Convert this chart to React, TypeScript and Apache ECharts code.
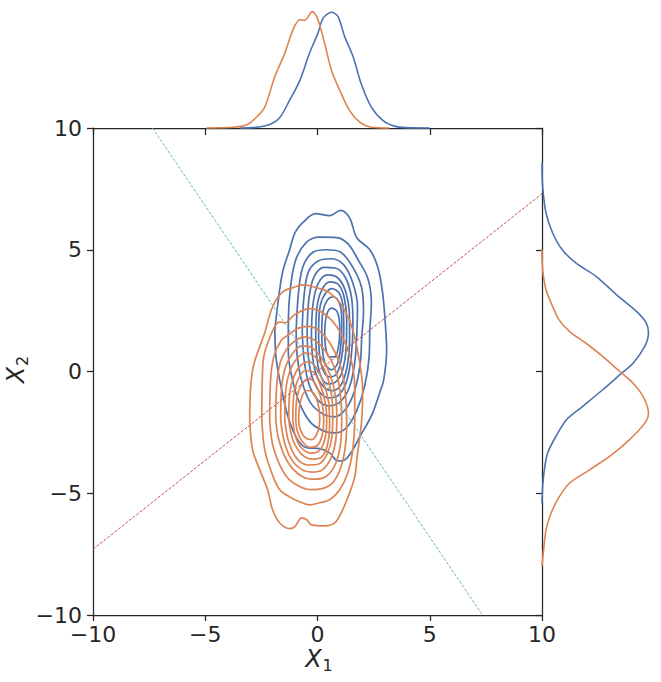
import React, { useEffect, useRef } from "react";
import * as echarts from "echarts";

const AXIS_MIN = -10;
const AXIS_MAX = 10;
const TICK_STEP = 5;

// Blue KDE contour levels (outer -> inner), [x1, x2]
const B1 = [[-1.9, 1.7], [-1.75, 2.9], [-1.55, 4.1], [-1.24, 5.0], [-1.0, 5.7], [-0.66, 6.11], [-0.08, 6.48], [0.54, 6.4], [1.03, 6.62], [1.43, 6.31], [1.75, 5.49], [2.33, 5.0], [2.68, 4.3], [2.9, 3.23], [3.04, 1.71], [3.08, 0.89], [2.95, -0.34], [2.77, -0.87], [2.46, -1.7], [2.19, -2.19], [1.88, -2.68], [1.57, -3.22], [1.21, -3.63], [0.9, -3.67], [0.54, -3.34], [0.1, -3.17], [-0.48, -3.13], [-0.88, -2.81], [-1.3, -1.9], [-1.65, -0.5], [-1.85, 0.6]];
const B2 = [[-1.3, 1.7], [-1.25, 3.0], [-1.0, 4.5], [-0.5, 5.3], [0.1, 5.52], [0.85, 5.5], [1.35, 5.25], [1.8, 4.6], [2.25, 3.8], [2.4, 2.8], [2.33, 1.7], [2.3, 0.6], [2.1, -0.6], [1.75, -1.6], [1.3, -2.3], [0.8, -2.52], [0.3, -2.45], [-0.3, -2.1], [-0.8, -1.3], [-1.15, -0.2], [-1.3, 0.8]];
const B3 = [[-0.95, 1.7], [-0.85, 3.2], [-0.65, 4.3], [-0.2, 4.9], [0.4, 5.0], [1.0, 4.92], [1.53, 4.35], [1.95, 3.5], [2.05, 2.5], [1.97, 1.4], [1.9, 0.3], [1.65, -0.8], [1.25, -1.55], [0.75, -1.86], [0.25, -1.75], [-0.3, -1.3], [-0.7, -0.4], [-0.9, 0.6]];
const B4 = [[-0.68, 1.7], [-0.6, 3.1], [-0.4, 4.1], [0.05, 4.55], [0.6, 4.63], [1.15, 4.4], [1.55, 3.7], [1.78, 2.7], [1.75, 1.5], [1.65, 0.3], [1.4, -0.7], [1.0, -1.25], [0.55, -1.41], [0.1, -1.25], [-0.35, -0.6], [-0.6, 0.5]];
const B5 = [[-0.46, 1.7], [-0.38, 3.0], [-0.15, 3.9], [0.3, 4.28], [0.8, 4.25], [1.25, 3.85], [1.52, 3.0], [1.58, 1.9], [1.5, 0.6], [1.28, -0.45], [0.9, -1.0], [0.5, -1.08], [0.1, -0.85], [-0.25, -0.2], [-0.42, 0.7]];
const B6 = [[-0.27, 1.7], [-0.18, 2.9], [0.05, 3.65], [0.45, 3.97], [0.9, 3.85], [1.25, 3.3], [1.42, 2.4], [1.43, 1.3], [1.32, 0.2], [1.05, -0.55], [0.65, -0.79], [0.25, -0.6], [-0.08, -0.05], [-0.24, 0.8]];
const B7 = [[-0.08, 1.7], [0.0, 2.8], [0.22, 3.4], [0.55, 3.68], [0.95, 3.55], [1.2, 3.0], [1.3, 2.1], [1.28, 1.0], [1.12, 0.05], [0.85, -0.4], [0.5, -0.51], [0.18, -0.25], [-0.02, 0.5]];
const B8 = [[0.05, 1.7], [0.12, 2.7], [0.35, 3.2], [0.65, 3.4], [0.98, 3.2], [1.15, 2.55], [1.17, 1.6], [1.08, 0.6], [0.85, -0.1], [0.55, -0.22], [0.25, 0.05], [0.08, 0.8]];
const B9 = [[0.19, 1.7], [0.25, 2.5], [0.45, 2.95], [0.72, 3.07], [0.98, 2.8], [1.08, 2.1], [1.05, 1.2], [0.9, 0.35], [0.62, 0.07], [0.35, 0.3], [0.21, 1.0]];
const B10 = [[0.32, 1.6], [0.4, 2.3], [0.62, 2.6], [0.88, 2.45], [0.99, 1.8], [0.95, 1.1], [0.75, 0.6], [0.52, 0.6], [0.36, 1.0]];

// Orange KDE contour levels (outer -> inner), [x1, x2]
const O1 = [[-3.02, -1.98], [-2.89, 0.07], [-2.35, 1.59], [-2.0, 2.66], [-1.55, 3.27], [-1.1, 3.44], [-0.66, 3.56], [-0.04, 3.44], [0.54, 3.23], [1.12, 2.66], [1.57, 1.71], [1.88, 0.36], [2.01, -0.75], [1.97, -1.98], [1.75, -3.63], [1.66, -4.33], [1.43, -4.98], [1.12, -5.68], [0.77, -6.22], [0.32, -6.34], [-0.26, -6.3], [-0.48, -6.09], [-0.7, -6.01], [-1.02, -6.38], [-1.24, -6.45], [-1.68, -6.22], [-2.0, -5.68], [-2.22, -4.86], [-2.57, -4.04], [-2.89, -3.22]];
const O2 = [[-2.48, -1.98], [-2.43, 0.36], [-2.04, 1.59], [-1.68, 2.04], [-1.46, 2.0], [-1.02, 2.33], [-0.35, 2.58], [0.23, 2.41], [0.86, 1.84], [1.3, 1.02], [1.57, 0.19], [1.66, -0.75], [1.66, -1.98], [1.57, -3.22], [1.35, -4.16], [0.99, -4.86], [0.54, -5.27], [0.1, -5.39], [-0.35, -5.48], [-0.79, -5.35], [-1.24, -5.15], [-1.68, -4.86], [-2.04, -4.16], [-2.35, -3.22]];
const O3 = [[-2.13, -1.98], [-2.1, -0.5], [-1.95, 0.6], [-1.6, 1.3], [-1.3, 1.5], [-0.85, 1.78], [-0.4, 1.85], [0.1, 1.65], [0.6, 1.1], [1.0, 0.3], [1.22, -0.7], [1.3, -1.98], [1.25, -3.0], [1.05, -3.9], [0.7, -4.55], [0.25, -4.8], [-0.3, -4.85], [-0.8, -4.72], [-1.3, -4.4], [-1.7, -3.8], [-2.0, -3.0]];
const O4 = [[-1.86, -1.98], [-1.82, -0.6], [-1.65, 0.4], [-1.35, 0.95], [-1.0, 1.25], [-0.6, 1.42], [-0.15, 1.3], [0.35, 0.85], [0.78, 0.1], [1.0, -0.8], [1.08, -1.98], [1.02, -3.0], [0.8, -3.8], [0.4, -4.3], [-0.1, -4.42], [-0.6, -4.35], [-1.1, -4.0], [-1.5, -3.4], [-1.75, -2.7]];
const O5 = [[-1.64, -1.98], [-1.6, -0.7], [-1.42, 0.2], [-1.1, 0.75], [-0.7, 1.05], [-0.3, 1.0], [0.15, 0.6], [0.55, -0.1], [0.8, -1.0], [0.86, -1.98], [0.8, -2.9], [0.58, -3.6], [0.2, -4.05], [-0.25, -4.13], [-0.75, -4.0], [-1.2, -3.55], [-1.5, -2.8]];
const O6 = [[-1.46, -1.98], [-1.42, -0.8], [-1.22, 0.05], [-0.9, 0.55], [-0.5, 0.77], [-0.1, 0.6], [0.3, 0.1], [0.58, -0.7], [0.68, -1.7], [0.64, -2.7], [0.42, -3.4], [0.05, -3.8], [-0.4, -3.84], [-0.9, -3.6], [-1.28, -2.9]];
const O7 = [[-1.28, -1.98], [-1.24, -0.9], [-1.05, -0.2], [-0.75, 0.25], [-0.4, 0.4], [-0.05, 0.15], [0.28, -0.5], [0.5, -1.3], [0.54, -2.2], [0.45, -3.0], [0.2, -3.5], [-0.2, -3.6], [-0.7, -3.4], [-1.1, -2.8]];
const O8 = [[-1.1, -1.98], [-1.06, -1.0], [-0.88, -0.35], [-0.55, 0.03], [-0.22, 0.0], [0.1, -0.5], [0.35, -1.3], [0.41, -2.1], [0.32, -2.8], [0.08, -3.25], [-0.3, -3.35], [-0.75, -3.1], [-1.0, -2.6]];
const O9 = [[-0.97, -1.98], [-0.92, -1.1], [-0.72, -0.55], [-0.4, -0.3], [-0.1, -0.5], [0.18, -1.2], [0.28, -2.0], [0.2, -2.65], [-0.02, -3.05], [-0.35, -3.11], [-0.7, -2.85], [-0.9, -2.45]];
const O10 = [[-0.84, -1.9], [-0.75, -1.2], [-0.5, -0.78], [-0.22, -0.85], [0.02, -1.3], [0.1, -1.9], [0.02, -2.45], [-0.25, -2.8], [-0.55, -2.72], [-0.78, -2.35]];

const blueContours = [B1, B2, B3, B4, B5, B6, B7, B8, B9, B10];
const orangeContours = [O1, O2, O3, O4, O5, O6, O7, O8, O9, O10];

// Top marginal densities (relative), [x1, density]
const topBlue = [[-3.47, 0], [-2.72, 0.006], [-2.13, 0.03], [-1.68, 0.09], [-1.24, 0.24], [-0.79, 0.41], [-0.35, 0.65], [0.02, 0.82], [0.25, 0.95], [0.62, 1.0], [0.91, 0.965], [1.21, 0.79], [1.58, 0.62], [1.95, 0.38], [2.4, 0.18], [2.92, 0.064], [3.51, 0.012], [4.2, 0.001], [5.0, 0]];
const topOrange = [[-4.95, 0], [-3.76, 0.006], [-3.17, 0.026], [-2.72, 0.093], [-2.35, 0.18], [-1.91, 0.44], [-1.46, 0.645], [-1.09, 0.85], [-0.79, 0.936], [-0.57, 0.93], [-0.23, 1.006], [0.02, 0.936], [0.32, 0.73], [0.62, 0.5], [0.99, 0.326], [1.43, 0.15], [1.88, 0.05], [2.4, 0.006], [3.2, 0]];

// Right marginal densities (relative), [density, x2]
const rightBlue = [[0, 8.56], [0.006, 7.6], [0.038, 6.51], [0.1, 5.69], [0.19, 5.0], [0.32, 4.45], [0.51, 3.9], [0.7, 3.15], [0.89, 2.46], [0.98, 1.99], [1.0, 1.58], [0.965, 1.03], [0.855, 0.34], [0.73, -0.14], [0.57, -0.75], [0.38, -1.44], [0.23, -1.98], [0.13, -2.67], [0.053, -3.35], [0.022, -4.04], [0.006, -4.72], [0, -5.4]];
const rightOrange = [[0, 5.0], [0.006, 4.18], [0.038, 3.36], [0.1, 2.67], [0.16, 2.12], [0.26, 1.64], [0.41, 1.17], [0.57, 0.62], [0.73, 0.0], [0.855, -0.48], [0.95, -1.03], [1.0, -1.71], [0.965, -2.12], [0.82, -2.81], [0.635, -3.49], [0.446, -4.04], [0.26, -4.58], [0.163, -5.14], [0.085, -5.82], [0.038, -6.5], [0.012, -7.45], [0, -8.0]];

// Reference lines
const cyanLine = [[-7.35, 10], [7.35, -10]];
const redLine = [[-10, -7.3], [10, 7.3]];

const BLUE = "#4C72B0";
const ORANGE = "#DD8452";
const CYAN = "#64B5CD";
const RED = "#C44E52";
const INK = "#262626";
const FONT = "DejaVu Sans";

const fmt = (v: number) => String(v).replace("-", "\u2212");

export default function App() {
  const ref = useRef<HTMLDivElement>(null);
  useEffect(() => {
    if (!ref.current) return;
    const chart = echarts.init(ref.current, undefined, { renderer: "svg" });
    const lineAxis = { show: true, onZero: false, lineStyle: { color: INK, width: 1.25 } };
    const tickStyle = { color: INK, width: 1.25 };
    const contourSeries = (list: number[][][], color: string) =>
      list.map((c) => ({
        type: "line",
        xAxisIndex: 0,
        yAxisIndex: 0,
        data: [...c, c[0]],
        smooth: 0.35,
        symbol: "none",
        silent: true,
        lineStyle: { color, width: 1.7 },
        z: 2,
      }));
    chart.setOption({
      animation: false,
      grid: [
        { left: 93, top: 128, width: 449, height: 487 },
        { left: 93, top: 10, width: 449, height: 118 },
        { left: 542, top: 128, width: 115, height: 487 },
      ],
      xAxis: [
        {
          type: "value", gridIndex: 0, position: "bottom", min: AXIS_MIN, max: AXIS_MAX, interval: TICK_STEP,
          axisLine: lineAxis, axisTick: { show: true, length: 6, lineStyle: tickStyle },
          axisLabel: { show: true, margin: 8, fontSize: 22, fontFamily: FONT, color: INK, formatter: fmt },
          splitLine: { show: false },
        },
        {
          type: "value", gridIndex: 0, position: "top", min: AXIS_MIN, max: AXIS_MAX, interval: TICK_STEP,
          axisLine: lineAxis, axisTick: { show: true, inside: true, length: 7, lineStyle: tickStyle },
          axisLabel: { show: false }, splitLine: { show: false },
        },
        { type: "value", gridIndex: 1, min: AXIS_MIN, max: AXIS_MAX, show: false },
        { type: "value", gridIndex: 2, min: 0, max: 1.08, show: false },
      ],
      yAxis: [
        {
          type: "value", gridIndex: 0, position: "left", min: AXIS_MIN, max: AXIS_MAX, interval: TICK_STEP,
          axisLine: lineAxis, axisTick: { show: true, length: 6, lineStyle: tickStyle },
          axisLabel: { show: true, margin: 11, fontSize: 22, fontFamily: FONT, color: INK, formatter: fmt },
          splitLine: { show: false },
        },
        {
          type: "value", gridIndex: 0, position: "right", min: AXIS_MIN, max: AXIS_MAX, interval: TICK_STEP,
          axisLine: lineAxis, axisTick: { show: true, inside: true, length: 6, lineStyle: tickStyle },
          axisLabel: { show: false }, splitLine: { show: false },
        },
        { type: "value", gridIndex: 1, min: 0, max: 1.02, show: false },
        { type: "value", gridIndex: 2, min: AXIS_MIN, max: AXIS_MAX, show: false },
      ],
      series: [
        ...contourSeries(blueContours, BLUE),
        ...contourSeries(orangeContours, ORANGE),
        {
          type: "line", xAxisIndex: 0, yAxisIndex: 0, data: cyanLine, symbol: "none", silent: true,
          lineStyle: { color: CYAN, width: 1, type: [3, 1.6] }, z: 3,
        },
        {
          type: "line", xAxisIndex: 0, yAxisIndex: 0, data: redLine, symbol: "none", silent: true,
          lineStyle: { color: RED, width: 1, type: [3, 1.6] }, z: 3,
        },
        {
          type: "line", xAxisIndex: 2, yAxisIndex: 2, data: topBlue, smooth: 0.3, symbol: "none", silent: true,
          lineStyle: { color: BLUE, width: 1.6 }, clip: false,
        },
        {
          type: "line", xAxisIndex: 2, yAxisIndex: 2, data: topOrange, smooth: 0.3, symbol: "none", silent: true,
          lineStyle: { color: ORANGE, width: 1.6 }, clip: false,
        },
        {
          type: "line", xAxisIndex: 3, yAxisIndex: 3, data: rightBlue, smooth: 0.3, symbol: "none", silent: true,
          lineStyle: { color: BLUE, width: 1.6 }, clip: false,
        },
        {
          type: "line", xAxisIndex: 3, yAxisIndex: 3, data: rightOrange, smooth: 0.3, symbol: "none", silent: true,
          lineStyle: { color: ORANGE, width: 1.6 }, clip: false,
        },
      ],
      graphic: [
        {
          type: "text", x: 313.5, y: 659,
          style: { text: "X", font: `italic 24px "${FONT}"`, fill: INK, align: "center", verticalAlign: "middle" },
        },
        {
          type: "text", x: 327.5, y: 665,
          style: { text: "1", font: `16px "${FONT}"`, fill: INK, align: "center", verticalAlign: "middle" },
        },
        {
          type: "group", x: 16, y: 371, rotation: Math.PI / 2,
          children: [
            {
              type: "text", x: -4, y: 0,
              style: { text: "X", font: `italic 24px "${FONT}"`, fill: INK, align: "center", verticalAlign: "middle" },
            },
            {
              type: "text", x: 10, y: 6,
              style: { text: "2", font: `16px "${FONT}"`, fill: INK, align: "center", verticalAlign: "middle" },
            },
          ],
        },
      ],
    });
    return () => chart.dispose();
  }, []);
  return (
    <div
      ref={ref}
      style={{ position: "fixed", left: 0, top: 0, width: 661, height: 682, background: "#ffffff" }}
    />
  );
}
